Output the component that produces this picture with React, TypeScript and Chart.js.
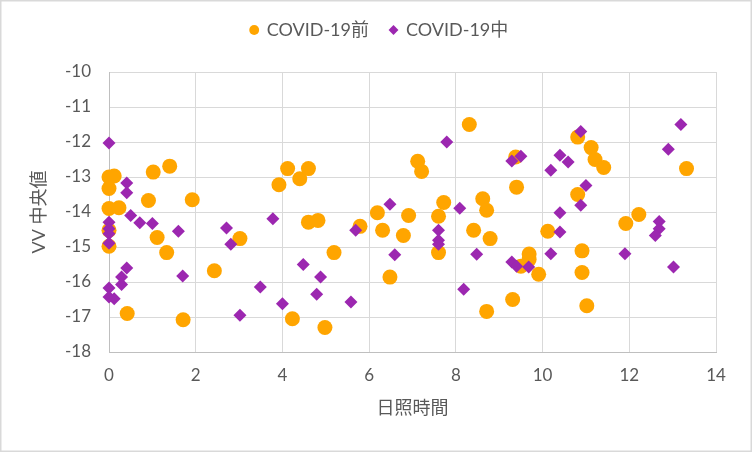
import { useEffect, useRef } from "react";
import { Chart, registerables } from "chart.js";

Chart.register(...registerables);

const seriesLabels = ["COVID-19前", "COVID-19中"];
const xTitle = "日照時間";
const yTitle = "VV 中央値";

const preX = [
  0, 0.12, 0, 1.02, 1.4, 0.91, 1.92, 0, 0.23, 0, 0, 1.11, 1.33, 0.42, 1.71, 2.43,
  3.02, 3.92, 4.12, 4.4, 4.6, 4.6, 4.82, 4.23, 4.98, 5.19, 5.79, 6.19, 6.31, 6.79,
  6.91, 6.48, 7.12, 7.21, 7.6, 7.72, 7.6, 8.31, 8.41, 8.62, 8.71, 8.79, 8.71, 9.31,
  9.38, 9.4, 10.81, 11.12, 11.21, 11.41, 13.32, 10.81, 10.12, 11.92, 12.22, 9.69,
  9.69, 9.5, 9.91, 10.91, 10.91, 11.02,
];
const preY = [
  -13.0, -12.97, -13.33, -12.86, -12.69, -13.67, -13.65, -13.9, -13.88, -14.52,
  -14.98, -14.73, -15.16, -16.9, -17.08, -15.68, -14.76, -13.22, -12.76, -13.05,
  -12.76, -14.29, -14.24, -17.05, -17.3, -15.16, -14.41, -14.02, -14.52, -14.67,
  -14.1, -15.86, -12.55, -12.84, -14.12, -13.73, -15.16, -11.5, -14.52, -13.62,
  -13.95, -14.76, -16.84, -16.5, -12.43, -13.29, -11.86, -12.16, -12.5, -12.73,
  -12.76, -13.5, -14.55, -14.33, -14.07, -15.2, -15.36, -15.55, -15.78, -15.11,
  -15.73, -16.68,
];

const duringX = [
  0, 0.41, 0.41, 0.5, 0.71, 1.0, 0, 0, 0, 0, 1.6, 2.71, 2.81, 3.78, 4.48, 0.41,
  0.29, 0.29, 0, 0, 0.12, 1.7, 3.02, 3.49, 4.0, 5.69, 6.48, 6.59, 4.88, 4.79, 5.58,
  7.79, 8.09, 7.6, 7.6, 7.6, 8.48, 8.18, 9.29, 9.5, 10.4, 10.59, 10.19, 10.88, 11.0,
  10.88, 10.4, 10.4, 10.19, 9.29, 9.4, 9.68, 11.9, 13.19, 12.9, 12.69, 12.69, 12.6,
  13.02,
];
const duringY = [
  -12.03, -13.17, -13.45, -14.1, -14.31, -14.33, -14.29, -14.48, -14.62, -14.89,
  -14.55, -14.46, -14.92, -14.19, -15.5, -15.6, -15.86, -16.07, -16.17, -16.43,
  -16.48, -15.83, -16.95, -16.14, -16.62, -14.52, -13.78, -15.22, -15.86, -16.35,
  -16.57, -12.0, -13.89, -14.52, -14.81, -14.92, -15.21, -16.21, -12.54, -12.41,
  -12.38, -12.57, -12.81, -11.7, -13.24, -13.81, -14.02, -14.57, -15.19, -15.43,
  -15.55, -15.57, -15.19, -11.5, -12.21, -14.27, -14.48, -14.67, -15.57,
];

const xMin = 0;
const xMax = 14;
const xStep = 2;
const yMin = -18;
const yMax = -10;
const yStep = 1;

const ORANGE = "#FFA500";
const PURPLE = "#9C27B0";
const TEXT = "#595959";
const FONT = "Lato, 'Noto Sans CJK JP', sans-serif";

const zip = (xs: number[], ys: number[]) => xs.map((x, i) => ({ x, y: ys[i] }));

const framePlugin = {
  id: "frame",
  beforeDraw(chart: any) {
    const { ctx, width, height } = chart;
    ctx.save();
    ctx.fillStyle = "#ffffff";
    ctx.fillRect(0, 0, width, height);
    ctx.strokeStyle = "#d9d9d9";
    ctx.lineWidth = 1.5;
    ctx.strokeRect(0.75, 0.75, width - 1.5, height - 1.5);
    ctx.restore();
  },
};

const legendHeightPlugin = {
  id: "legendHeight",
  beforeLayout(chart: any) {
    const lg = chart.legend;
    if (lg && !lg.__patched) {
      const fit = lg.fit;
      lg.fit = function () {
        fit.call(this);
        this.height = 72;
      };
      lg.__patched = true;
    }
  },
};

export default function App() {
  const ref = useRef<HTMLCanvasElement | null>(null);

  useEffect(() => {
    if (!ref.current) return;
    const chart = new Chart(ref.current, {
      type: "scatter",
      data: {
        datasets: [
          {
            label: seriesLabels[0],
            data: zip(preX, preY),
            pointStyle: "circle",
            pointRadius: 7.5,
            pointHoverRadius: 7.5,
            backgroundColor: ORANGE,
            borderColor: ORANGE,
            borderWidth: 0,
            clip: false,
            order: 1,
          },
          {
            label: seriesLabels[1],
            data: zip(duringX, duringY),
            pointStyle: "rectRot",
            pointRadius: 6.5,
            pointHoverRadius: 6.5,
            backgroundColor: PURPLE,
            borderColor: PURPLE,
            borderWidth: 0,
            clip: false,
            order: 0,
          },
        ],
      },
      options: {
        responsive: false,
        animation: false,
        layout: { padding: { left: 43, right: 36, top: 0, bottom: 0 } },
        plugins: {
          tooltip: { enabled: false },
          legend: {
            position: "top",
            labels: {
              usePointStyle: true,
              boxWidth: 7,
              boxHeight: 7,
              padding: 21,
              color: TEXT,
              font: { family: FONT, size: 18 },
              sort: (a: any, b: any) => a.datasetIndex - b.datasetIndex,
            },
          },
        },
        scales: {
          x: {
            type: "linear",
            min: xMin,
            max: xMax,
            afterFit: (s: any) => {
              s.height = 100;
            },
            ticks: {
              stepSize: xStep,
              color: TEXT,
              padding: 13,
              font: { family: FONT, size: 17 },
            },
            grid: { color: "#d9d9d9", lineWidth: 1, drawTicks: false },
            border: { display: true, color: "#bfbfbf", width: 1 },
            title: {
              display: true,
              text: xTitle,
              color: TEXT,
              font: { family: FONT, size: 18 },
              padding: { top: 0, bottom: 33 },
            },
          },
          y: {
            type: "linear",
            min: yMin,
            max: yMax,
            afterFit: (s: any) => {
              s.width = 109 - 43;
            },
            ticks: {
              stepSize: yStep,
              color: TEXT,
              padding: 18,
              font: { family: FONT, size: 17 },
            },
            grid: { color: "#d9d9d9", lineWidth: 1, drawTicks: false },
            border: { display: true, color: "#bfbfbf", width: 1 },
            title: {
              display: true,
              text: yTitle,
              color: TEXT,
              font: { family: FONT, size: 18 },
              padding: { top: -14.8, bottom: 0 },
            },
          },
        },
      },
      plugins: [framePlugin, legendHeightPlugin],
    });
    return () => chart.destroy();
  }, []);

  return (
    <div style={{ position: "fixed", left: 0, top: 0, width: 752, height: 452 }}>
      <canvas ref={ref} width={752} height={452} style={{ display: "block" }} />
    </div>
  );
}
